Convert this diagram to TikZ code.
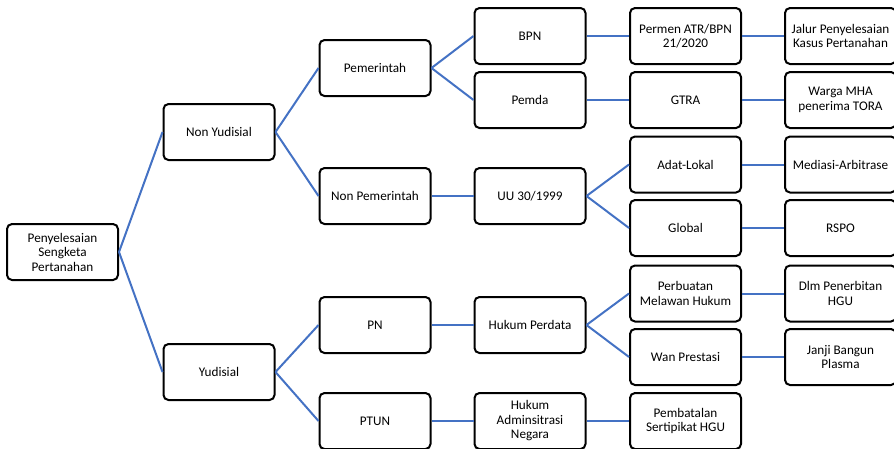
\documentclass[tikz,border=0pt]{standalone}
\usepackage{fontspec}
\setmainfont{Carlito}
\definecolor{linkblue}{HTML}{4472C4}
\begin{document}
\begin{tikzpicture}[x=1pt,y=-1pt,
  box/.style={draw, line width=2pt, rounded corners=5pt, fill=white,
    minimum width=111pt, minimum height=56pt, align=center,
    font=\fontsize{13.2}{14.5}\selectfont, inner sep=1pt},
  link/.style={draw=linkblue, line width=2pt}]
\useasboundingbox (0,0) rectangle (894,448);
\clip (0,0) rectangle (894,448);
% level 0
\node[box] (root) at (62.5,252) {Penyelesaian\\Sengketa\\Pertanahan};
% level 1
\node[box] (ny) at (219,132) {Non Yudisial};
\node[box] (y) at (219,372) {Yudisial};
% level 2
\node[box] (pem) at (375,68) {Pemerintah};
\node[box] (npem) at (375,196) {Non Pemerintah};
\node[box] (pn) at (375,325) {PN};
\node[box] (ptun) at (375,421) {PTUN};
% level 3
\node[box] (bpn) at (530,36) {BPN};
\node[box] (pemda) at (530,100) {Pemda};
\node[box] (uu) at (530,196) {UU 30/1999};
\node[box] (hp) at (530,325) {Hukum Perdata};
\node[box] (han) at (530,421) {Hukum\\Adminsitrasi\\Negara};
% level 4
\node[box] (permen) at (685.5,36) {Permen ATR/BPN\\21/2020};
\node[box] (gtra) at (685.5,100) {GTRA};
\node[box] (adat) at (685.5,164.5) {Adat-Lokal};
\node[box] (global) at (685.5,228) {Global};
\node[box] (pmh) at (685.5,293.5) {Perbuatan\\Melawan Hukum};
\node[box] (wan) at (685.5,357) {Wan Prestasi};
\node[box] (batal) at (685.5,421) {Pembatalan\\Sertipikat HGU};
% level 5
\node[box] (jalur) at (840.5,36) {Jalur Penyelesaian\\Kasus Pertanahan};
\node[box] (warga) at (840.5,100) {Warga MHA\\penerima TORA};
\node[box] (med) at (840.5,164.5) {Mediasi-Arbitrase};
\node[box] (rspo) at (840.5,228) {RSPO};
\node[box] (dlm) at (840.5,293.5) {Dlm Penerbitan\\HGU};
\node[box] (janji) at (840.5,357) {Janji Bangun\\Plasma};
% connectors
\foreach \a/\b in {root/ny,root/y,ny/pem,ny/npem,y/pn,y/ptun,
  pem/bpn,pem/pemda,npem/uu,pn/hp,ptun/han,
  bpn/permen,pemda/gtra,uu/adat,uu/global,hp/pmh,hp/wan,han/batal,
  permen/jalur,gtra/warga,adat/med,global/rspo,pmh/dlm,wan/janji}
  \draw[link] (\a.east) -- (\b.west);
\end{tikzpicture}
\end{document}
